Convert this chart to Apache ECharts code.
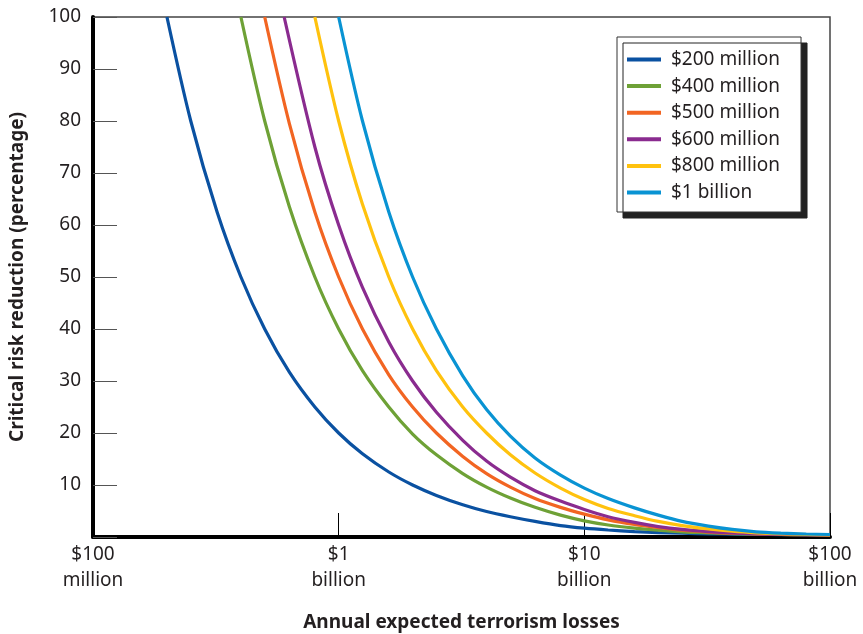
<!DOCTYPE html>
<html>
<head>
<meta charset="utf-8">
<script src="https://cdn.jsdelivr.net/npm/echarts@6/dist/echarts.min.js"></script>
<style>
html,body{margin:0;padding:0;background:#fff;}
#c{width:863px;height:634px;}
</style>
</head>
<body>
<div id="c"></div>
<script>
// Annual expected losses, $ millions (log axis)
const xTicks = [100, 1000, 10000, 100000];
const xTickLabels = ['$100\nmillion', '$1\nbillion', '$10\nbillion', '$100\nbillion'];
const seriesNames = ['$200 million', '$400 million', '$500 million', '$600 million', '$800 million', '$1 billion'];
const seriesColors = ['#0a51a1', '#6ea136', '#f26522', '#8a2b8f', '#ffc20e', '#0993d3'];

const s200 = [[200,100],[250,80],[320,62.5],[400,50],[500,40],[630,31.7],[800,25],[1000,20],[1250,16],[1600,12.5],[2000,10],[2500,8],[3200,6.2],[4000,4.9],[5000,3.9],[6300,3.0],[8000,2.2],[10000,1.7],[12500,1.35],[16000,1.05],[20000,0.85],[25000,0.72],[32000,0.62],[40000,0.55],[50000,0.5],[63000,0.46],[80000,0.42],[100000,0.4]];
const s400 = [[400,100],[500,80],[630,63.5],[800,50],[1000,40],[1250,32],[1600,25],[2000,19.8],[2500,15.8],[3200,12.2],[4000,9.6],[5000,7.5],[6300,5.7],[8000,4.2],[10000,3.1],[12500,2.3],[16000,1.7],[20000,1.3],[25000,1.0],[32000,0.8],[40000,0.65],[50000,0.55],[63000,0.48],[80000,0.43],[100000,0.4]];
const s500 = [[500,100],[630,79.5],[800,62.5],[1000,50],[1250,40],[1600,31.2],[2000,25],[2500,20],[3200,15.5],[4000,12.2],[5000,9.6],[6300,7.4],[8000,5.7],[10000,4.4],[12500,3.3],[16000,2.4],[20000,1.8],[25000,1.3],[32000,0.95],[40000,0.72],[50000,0.6],[63000,0.5],[80000,0.45],[100000,0.4]];
const s600 = [[600,100],[800,75],[1000,60],[1250,48],[1600,37.5],[2000,30],[2500,24],[3200,18.6],[4000,14.6],[5000,11.5],[6300,8.9],[8000,6.9],[10000,5.3],[12500,3.9],[16000,2.8],[20000,2.0],[25000,1.45],[32000,1.05],[40000,0.78],[50000,0.62],[63000,0.52],[80000,0.45],[100000,0.4]];
const s800 = [[800,100],[1000,80],[1250,64],[1600,50],[2000,40],[2500,32],[3200,25],[4000,20],[5000,15.8],[6300,12.3],[8000,9.4],[10000,7.2],[12500,5.5],[16000,4.1],[20000,3.0],[25000,2.2],[32000,1.55],[40000,1.1],[50000,0.8],[63000,0.6],[80000,0.48],[100000,0.42]];
const s1000 = [[1000,100],[1250,80],[1600,62.5],[2000,50],[2500,40],[3200,31],[4000,24.5],[5000,19.4],[6300,15.2],[8000,11.9],[10000,9.4],[12500,7.4],[16000,5.6],[20000,4.2],[25000,3.0],[32000,2.1],[40000,1.45],[50000,1.0],[63000,0.75],[80000,0.58],[100000,0.48]];
const allSeries = [s200, s400, s500, s600, s800, s1000];

const FONT = 'Noto Sans';
const TXT = '#231f20';

const chart = echarts.init(document.getElementById('c'), null, {renderer: 'canvas'});
chart.setOption({
  animation: false,
  backgroundColor: '#fff',
  textStyle: {fontFamily: FONT, color: TXT},
  grid: {left: 93, right: 33, top: 17, bottom: 97, outerBoundsMode: 'none', containLabel: false, show: true, borderColor: '#444', borderWidth: 1.5, backgroundColor: 'transparent'},
  legend: {
    orient: 'vertical',
    left: 617, top: 37,
    padding: [13, 21, 10, 10],
    itemWidth: 34, itemHeight: 4, itemGap: 7.6,
    icon: 'rect',
    backgroundColor: '#fff',
    borderColor: '#333', borderWidth: 1,
    shadowColor: '#222', shadowBlur: 0, shadowOffsetX: 6, shadowOffsetY: 6,
    textStyle: {fontFamily: FONT, fontSize: 19, color: TXT, padding: [0,0,0,5], lineHeight: 17},
    data: seriesNames
  },
  xAxis: {
    type: 'log', logBase: 10, min: 100, max: 100000,
    name: 'Annual expected terrorism losses',
    nameLocation: 'middle', nameGap: 76.5,
    nameTextStyle: {fontFamily: FONT, fontSize: 19, fontWeight: 'bold', color: TXT},
    axisLine: {show: true, lineStyle: {color: '#000', width: 4}},
    axisTick: {show: true, inside: true, length: 24, lineStyle: {color: '#000', width: 1}},
    splitLine: {show: false},
    axisLabel: {
      fontFamily: FONT, fontSize: 19, color: TXT, margin: 5, lineHeight: 26,
      formatter: function (v) {
        const i = xTicks.findIndex(t => Math.abs(Math.log10(t) - Math.log10(v)) < 0.01);
        return i >= 0 ? xTickLabels[i] : '';
      }
    }
  },
  yAxis: {
    type: 'value', min: 0, max: 100, interval: 10,
    name: 'Critical risk reduction (percentage)',
    nameLocation: 'middle', nameGap: 66, nameRotate: 90,
    nameTextStyle: {fontFamily: FONT, fontSize: 19, fontWeight: 'bold', color: TXT},
    axisLine: {show: true, lineStyle: {color: '#000', width: 4}},
    axisTick: {show: true, inside: true, length: 24, lineStyle: {color: '#555', width: 1}},
    splitLine: {show: false},
    axisLabel: {
      fontFamily: FONT, fontSize: 19, color: TXT, margin: 12,
      formatter: function (v) { return v === 0 ? '' : String(v); }
    }
  },
  series: allSeries.map((d, i) => ({
    name: seriesNames[i],
    type: 'line',
    data: d,
    smooth: 0.3,
    showSymbol: false,
    symbol: 'none',
    clip: true,
    color: seriesColors[i],
    lineStyle: {color: seriesColors[i], width: 3.2}
  }))
});
</script>
</body>
</html>
